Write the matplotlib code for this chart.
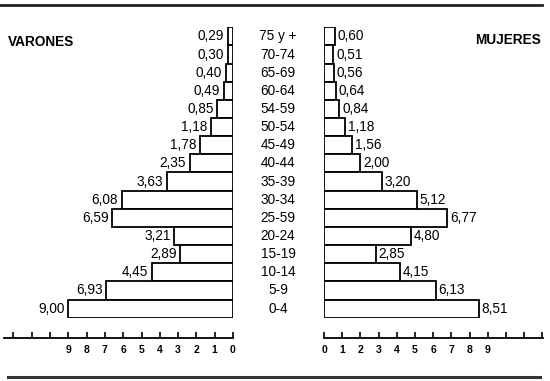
import matplotlib
matplotlib.use("Agg")
import matplotlib.pyplot as plt
from matplotlib.transforms import blended_transform_factory

plt.rcParams['font.family'] = ['Liberation Sans', 'DejaVu Sans']

# Data (top to bottom as printed)
ages = ["75 y +", "70-74", "65-69", "60-64", "54-59", "50-54", "45-49", "40-44",
        "35-39", "30-34", "25-59", "20-24", "15-19", "10-14", "5-9", "0-4"]
varones = [0.29, 0.30, 0.40, 0.49, 0.85, 1.18, 1.78, 2.35,
           3.63, 6.08, 6.59, 3.21, 2.89, 4.45, 6.93, 9.00]
mujeres = [0.60, 0.51, 0.56, 0.64, 0.84, 1.18, 1.56, 2.00,
           3.20, 5.12, 6.77, 4.80, 2.85, 4.15, 6.13, 8.51]
left_ticks = list(range(0, 13))
left_ticklabels = [str(i) for i in range(0, 10)] + ["", "", ""]
right_ticks = list(range(0, 13))
right_ticklabels = [str(i) for i in range(0, 10)] + ["", "", ""]

W, H = 550, 381
fig = plt.figure(figsize=(W / 100, H / 100), dpi=100)

def fx(px):
    return px / W

def fy(py):
    return 1 - py / H

top_px, bot_px = 27.3, 317.7
ax_b = fy(bot_px)
ax_h = (bot_px - top_px) / H

unitL = 18.3
xL0 = 233.0
xlimL = 12.5
axL = fig.add_axes([fx(xL0 - xlimL * unitL), ax_b, fx(xlimL * unitL), ax_h])
unitR = 18.2
xR0 = 324.0
xlimR = 12.05
axR = fig.add_axes([fx(xR0), ax_b, fx(xlimR * unitR), ax_h])

n = len(ages)
ypos = [n - 1 - i for i in range(n)]

lw = 1.3
axL.barh(ypos, varones, height=1.0, color="white", edgecolor="black", linewidth=lw)
axR.barh(ypos, mujeres, height=1.0, color="white", edgecolor="black", linewidth=lw)

axL.set_xlim(xlimL, 0)
axR.set_xlim(0, xlimR)
for ax in (axL, axR):
    ax.set_ylim(-0.5, n - 0.5)
    ax.set_yticks([])
    for s in ("top", "left", "right"):
        ax.spines[s].set_visible(False)
    ax.spines["bottom"].set_position(("outward", 14.5))
    ax.spines["bottom"].set_linewidth(1.3)
    ax.tick_params(axis="x", direction="in", length=4, width=1.2, pad=5.5,
                   labelsize=7.5)
    ax.patch.set_alpha(0)

axL.set_xticks(left_ticks)
axL.set_xticklabels(left_ticklabels, fontweight="bold")
axR.set_xticks(right_ticks)
axR.set_xticklabels(right_ticklabels, fontweight="bold")

for y, v in zip(ypos, varones):
    axL.text(v + 0.2, y, f"{v:.2f}".replace(".", ","), ha="right", va="center",
             fontsize=9.8)
for y, v in zip(ypos, mujeres):
    axR.text(v + 0.15, y, f"{v:.2f}".replace(".", ","), ha="left", va="center",
             fontsize=9.8)

tr = blended_transform_factory(fig.transFigure, axL.transData)
for y, a in zip(ypos, ages):
    fig.text(fx(278), y, a, transform=tr, ha="center", va="center", fontsize=9.8)

fig.text(fx(8), fy(42), "VARONES", ha="left", va="center", fontsize=9.8,
         fontweight="bold")
fig.text(fx(541), fy(40), "MUJERES", ha="right", va="center", fontsize=9.8,
         fontweight="bold")

fig.add_artist(plt.Line2D([fx(0), fx(542)], [fy(5), fy(5)], color="#222222",
                          linewidth=2.0, transform=fig.transFigure))
fig.add_artist(plt.Line2D([fx(8), fx(540)], [fy(377), fy(377)], color="#333333",
                          linewidth=2.2, transform=fig.transFigure))

fig.savefig("out.png", dpi=100)
